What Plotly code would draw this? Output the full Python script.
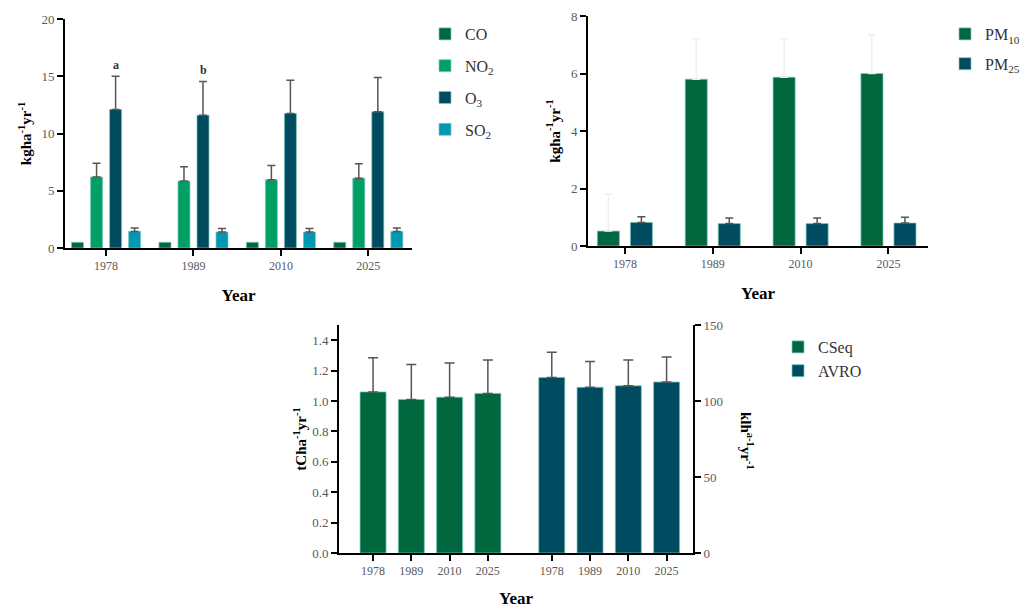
import plotly.graph_objects as go

# ---------------- data ----------------
years = ["1978", "1989", "2010", "2025"]

gas_names = ["CO", "NO<sub>2</sub>", "O<sub>3</sub>", "SO<sub>2</sub>"]
co = [0.5, 0.5, 0.5, 0.5]
co_err = [0, 0, 0, 0]
no2 = [6.2, 5.85, 5.95, 6.1]
no2_err = [1.2, 1.25, 1.25, 1.25]
o3 = [12.1, 11.6, 11.75, 11.9]
o3_err = [2.9, 2.95, 2.9, 3.0]
so2 = [1.45, 1.4, 1.4, 1.45]
so2_err = [0.3, 0.3, 0.3, 0.3]
gas_letters = ["a", "b", "", ""]

pm_names = ["PM<sub>10</sub>", "PM<sub>25</sub>"]
pm10 = [0.52, 5.8, 5.87, 6.0]
pm10_err = [1.28, 1.4, 1.35, 1.35]
pm25 = [0.82, 0.78, 0.78, 0.8]
pm25_err = [0.2, 0.19, 0.19, 0.2]

cseq = [1.06, 1.01, 1.025, 1.05]
cseq_err = [0.225, 0.23, 0.225, 0.22]
avro = [115.5, 109.0, 110.0, 112.5]
avro_err = [16.5, 17.0, 17.0, 16.5]

# ---------------- style ----------------
FONT = "Liberation Serif"
TICKC = "#5a5a5a"
gas_colors = ["#00673F", "#00A065", "#004B5F", "#0098B5"]
pm_colors = ["#00673F", "#004B5F"]
cseq_color = "#00673F"
avro_color = "#004B5F"
EDGE = dict(color="rgba(120,200,190,0.9)", width=0.8)
W, H = 1029, 608

fig = go.Figure()

# ---- panel 1: gases ----
slot1 = 0.2176
bw1 = 0.1375
gas_vals = [co, no2, o3, so2]
gas_errs = [co_err, no2_err, o3_err, so2_err]
for i, (nm, v, e, c) in enumerate(zip(gas_names, gas_vals, gas_errs, gas_colors)):
    center = (i - 1.5) * slot1
    fig.add_trace(go.Bar(
        x=years, y=v, name=nm, marker=dict(color=c, line=EDGE),
        width=bw1, offset=center - bw1 / 2,
        error_y=dict(type="data", array=e, arrayminus=[0] * len(e), symmetric=False,
                     color="#555555", thickness=1.5, width=4, visible=any(x > 0 for x in e)),
        xaxis="x", yaxis="y", legend="legend", legendgroup=nm,
    ))

for k, lt in enumerate(gas_letters):
    if lt:
        fig.add_annotation(x=k + 0.5 * slot1, y=o3[k] + o3_err[k], xref="x", yref="y",
                           text="<b>%s</b>" % lt, showarrow=False, yanchor="bottom", yshift=2,
                           font=dict(family=FONT, size=12, color="#333"))

# ---- panel 2: PM ----
slot2 = 0.376
bw2 = 0.251
pm_vals = [pm10, pm25]
pm_errs = [pm10_err, pm25_err]
pm_err_colors = ["#efefef", "#555555"]
for i, (nm, v, e, c, ec) in enumerate(zip(pm_names, pm_vals, pm_errs, pm_colors, pm_err_colors)):
    center = (i - 0.5) * slot2
    fig.add_trace(go.Bar(
        x=years, y=v, name=nm, marker=dict(color=c, line=EDGE),
        width=bw2, offset=center - bw2 / 2,
        error_y=dict(type="data", array=e, arrayminus=[0] * len(e), symmetric=False,
                     color=ec, thickness=1.5, width=4),
        xaxis="x2", yaxis="y2", legend="legend2", legendgroup=nm,
    ))

# ---- panel 3: CSeq / AVRO ----
gap_units = 1.67
pos_c = list(range(len(years)))
pos_a = [p + len(years) - 1 + gap_units for p in pos_c]
bw3 = 0.68
fig.add_trace(go.Bar(
    x=pos_c, y=cseq, name="CSeq", marker=dict(color=cseq_color, line=EDGE), width=bw3,
    error_y=dict(type="data", array=cseq_err, arrayminus=[0] * 4, symmetric=False,
                 color="#555555", thickness=1.5, width=5),
    xaxis="x3", yaxis="y3", legend="legend3",
))
fig.add_trace(go.Bar(
    x=pos_a, y=avro, name="AVRO", marker=dict(color=avro_color, line=EDGE), width=bw3,
    error_y=dict(type="data", array=avro_err, arrayminus=[0] * 4, symmetric=False,
                 color="#555555", thickness=1.5, width=5),
    xaxis="x3", yaxis="y4", legend="legend3",
))

# ---------------- axes ----------------
def px(xp):
    return xp / W

def py(yp):
    return 1 - yp / H

axis_common = dict(showline=True, linecolor="black", linewidth=2, ticks="outside",
                   tickcolor="black", tickwidth=2, ticklen=6, showgrid=False, zeroline=False,
                   automargin=False,
                   tickfont=dict(family=FONT, size=13, color=TICKC))
xt_font = dict(family=FONT, size=12, color=TICKC)
ytitle_font = dict(family=FONT, size=15, color="black")
xtitle_font = dict(family=FONT, size=17, color="black")

fig.update_layout(
    xaxis=dict(axis_common, domain=[px(65), px(412)], anchor="y", type="category",
               range=[-0.47, 3.5], tickfont=xt_font,
               title=dict(text="<b>Year</b>", font=xtitle_font, standoff=17)),
    yaxis=dict(axis_common, domain=[py(248), py(19)], anchor="x", range=[0, 20], dtick=5,
               title=dict(text="<b>kgha<sup>-1</sup>yr<sup>-1</sup></b>", font=ytitle_font, standoff=6)),
    xaxis2=dict(axis_common, domain=[px(588), px(928)], anchor="y2", type="category",
                range=[-0.42, 3.45], tickfont=xt_font,
                title=dict(text="<b>Year</b>", font=xtitle_font, standoff=17)),
    yaxis2=dict(axis_common, domain=[py(246), py(16)], anchor="x2", range=[0, 8], dtick=2,
                title=dict(text="<b>kgha<sup>-1</sup>yr<sup>-1</sup></b>", font=ytitle_font, standoff=7)),
    xaxis3=dict(axis_common, domain=[px(339), px(693)], anchor="y3", range=[-0.89, 8.36],
                tickvals=pos_c + pos_a, ticktext=years + years, tickfont=xt_font,
                title=dict(text="<b>Year</b>", font=xtitle_font, standoff=17)),
    yaxis3=dict(axis_common, domain=[py(553), py(325)], anchor="x3", range=[0, 1.5],
                tickvals=[0, 0.2, 0.4, 0.6, 0.8, 1.0, 1.2, 1.4], tickformat=".1f",
                title=dict(text="<b>tCha<sup>-1</sup>yr<sup>-1</sup></b>", font=ytitle_font, standoff=2)),
    yaxis4=dict(axis_common, overlaying="y3", side="right", anchor="x3", range=[0, 150], dtick=50),
)

fig.add_annotation(x=px(747), y=py(441), xref="paper", yref="paper",
                   xanchor="center", yanchor="middle",
                   text="<b>klh<sup>a-1</sup>yr<sup>-1</sup></b>", textangle=90, showarrow=False,
                   font=ytitle_font)

leg_font = dict(family=FONT, size=16, color="#333")
fig.update_layout(
    barmode="overlay",
    width=W, height=H, margin=dict(l=0, r=0, t=0, b=0),
    paper_bgcolor="white", plot_bgcolor="white",
    showlegend=True,
    legend=dict(x=px(425), y=py(17), xanchor="left", yanchor="top", font=leg_font,
                tracegroupgap=8, bgcolor="rgba(0,0,0,0)"),
    legend2=dict(x=px(945), y=py(17), xanchor="left", yanchor="top", font=leg_font,
                 tracegroupgap=6, bgcolor="rgba(0,0,0,0)"),
    legend3=dict(x=px(778), y=py(330), xanchor="left", yanchor="top", font=leg_font,
                 bgcolor="rgba(0,0,0,0)"),
)

fig.write_html("out.html", config={"displayModeBar": False},
               post_script="document.body.style.margin='0';")
